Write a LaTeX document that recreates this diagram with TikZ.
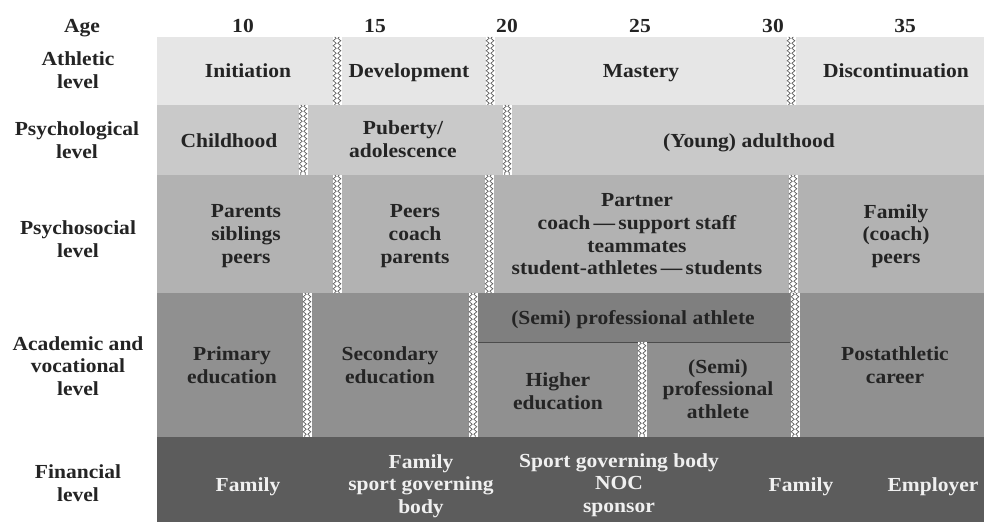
\documentclass[tikz,border=0pt]{standalone}
\usepackage{fontspec}
\setmainfont{Liberation Serif}[FakeStretch=1.08]
\usetikzlibrary{decorations.pathmorphing}

\definecolor{rowa}{HTML}{E6E6E6}
\definecolor{rowb}{HTML}{C9C9C9}
\definecolor{rowc}{HTML}{B2B2B2}
\definecolor{rowd}{HTML}{909090}
\definecolor{rowdd}{HTML}{7F7F7F}
\definecolor{rowe}{HTML}{5C5C5C}
\definecolor{ink}{HTML}{242424}

\begin{document}
\begin{tikzpicture}[x=1bp,y=-1bp,
	txt/.style={font=\bfseries\fontsize{20}{23}\selectfont, text=ink, align=center, inner sep=0pt,
		yshift=-2.5bp, execute at begin node=\strut, execute at end node=\strut},
	wtxt/.style={txt, text=white!94!black},
	tear/.style={draw=black!62, line width=0.7bp, decorate,
		decoration={zigzag, segment length=5bp, amplitude=1.5bp}},
	tearm/.style={tear, decoration={mirror}}]
	\useasboundingbox (0,0) rectangle (984,522);

	% bands
	\fill[rowa] (157,37) rectangle (984,105);
	\fill[rowb] (157,105) rectangle (984,175);
	\fill[rowc] (157,175) rectangle (984,293);
	\fill[rowd] (157,293) rectangle (984,437);
	\fill[rowe] (157,437) rectangle (984,522);
	\fill[rowdd] (478,293) rectangle (790,342);
	\draw[black!70, line width=0.8bp] (478,342) -- (790,342);

	% tears between stages
	\foreach \x/\ya/\yb in {337/37/105, 490/37/105, 791/37/105,
		303/105/175, 507/105/175,
		337/175/293, 489/175/293, 793/175/293,
		307/293/437, 473/293/437, 795/293/437, 642/342/437} {{
		\fill[white] (\x-4.5,\ya) rectangle (\x+4.5,\yb);
		\draw[tear] (\x-2.3,\ya) -- (\x-2.3,\yb);
		\draw[tearm] (\x+2.3,\ya) -- (\x+2.3,\yb);
	}}

	% age axis
	\node[txt] (age) at (82,25) {Age};
	\foreach \a/\x in {10/243, 15/375, 20/507, 25/640, 30/773, 35/905} {{
		\node[txt] (n\a) at (\x,25) {\a};
	}}

	% level names
	\node[txt] (athl) at (78,71) {Athletic\\level};
	\node[txt] (psyl) at (77,141) {Psychological\\level};
	\node[txt] (psol) at (78,240) {Psychosocial\\level};
	\node[txt] (acal) at (78,367) {Academic and\\vocational\\level};
	\node[txt] (finl) at (78,484) {Financial\\level};

	% athletic
	\node[txt] (init) at (248,70) {Initiation};
	\node[txt] (devt) at (409,70) {Development};
	\node[txt] (mast) at (641,70) {Mastery};
	\node[txt] (disc) at (896,70) {Discontinuation};

	% psychological
	\node[txt] (chld) at (229,140) {Childhood};
	\node[txt] (pubt) at (403,140) {Puberty/\\adolescence};
	\node[txt] (adlt) at (749,140) {(Young) adulthood};

	% psychosocial
	\node[txt] (sca) at (246,235) {Parents\\siblings\\peers};
	\node[txt] (scb) at (415,235) {Peers\\coach\\parents};
	\node[txt] (scc) at (637,235) {Partner\\coach\,—\,support staff\\teammates\\student-athletes\,—\,students};
	\node[txt] (scd) at (896,235) {Family\\(coach)\\peers};

	% academic and vocational
	\node[txt] (prim) at (232,366) {Primary\\education};
	\node[txt] (scnd) at (390,366) {Secondary\\education};
	\node[txt] (spro) at (633,317) {(Semi) professional athlete};
	\node[txt] (high) at (558,392) {Higher\\education};
	\node[txt] (sprb) at (718,390) {(Semi)\\professional\\athlete};
	\node[txt] (post) at (895,366) {Postathletic\\career};

	% financial
	\node[wtxt] (fina) at (248,484) {Family};
	\node[wtxt] (finb) at (421,485) {Family\\sport governing\\body};
	\node[wtxt] (finc) at (619,484) {Sport governing body\\NOC\\sponsor};
	\node[wtxt] (find) at (801,484) {Family};
	\node[wtxt] (fine) at (933,484) {Employer};
\end{tikzpicture}
\end{document}
